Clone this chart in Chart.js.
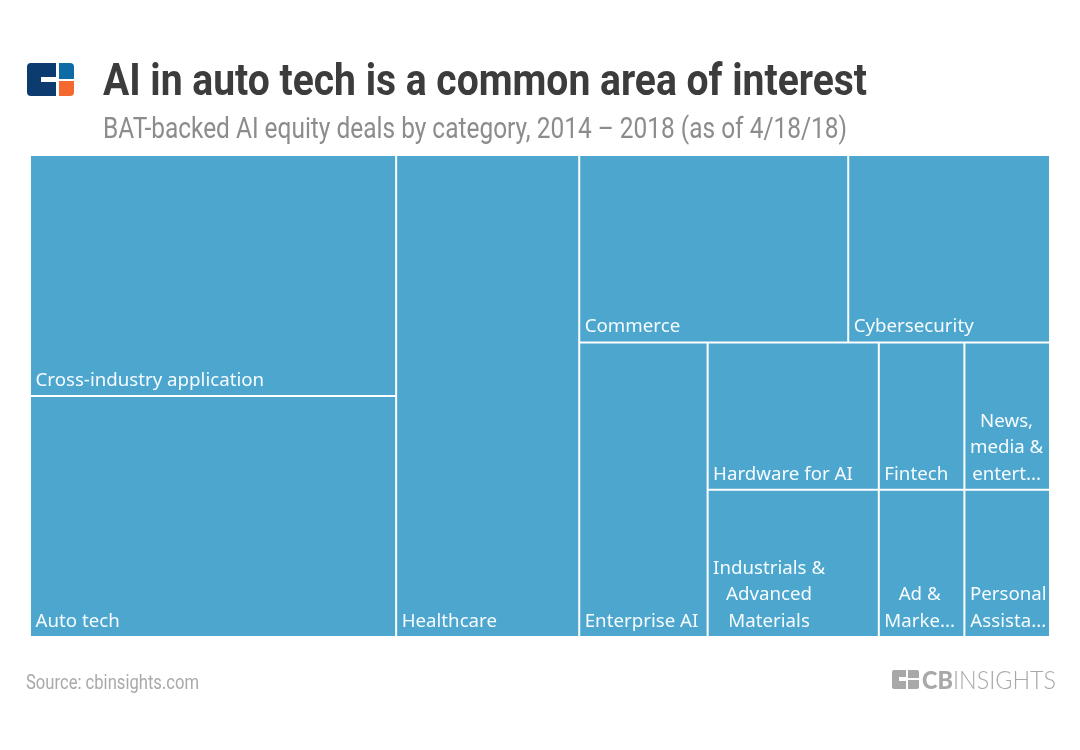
<!DOCTYPE html>
<html>
<head>
<meta charset="utf-8">
<title>AI in auto tech is a common area of interest</title>
<script src="https://cdn.jsdelivr.net/npm/chart.js@4/dist/chart.umd.min.js"></script>
<style>
html, body { margin: 0; padding: 0; background: #fff; }
#page { position: relative; width: 1080px; height: 750px; overflow: hidden; }
#page canvas { position: absolute; left: 0; top: 0; }
.txt { position: absolute; white-space: nowrap; transform-origin: left top; font-family: Roboto, sans-serif; }
#title { left: 103px; top: 55px; font-size: 44px; font-weight: 700; color: #3c3c3c; line-height: 50px; }
#subtitle { left: 103px; top: 110px; font-size: 29px; color: #8c8c8c; line-height: 36px; }
#source { left: 26px; top: 671px; font-size: 19.5px; color: #a9a9a9; line-height: 24px; }
#brand { left: 922px; top: 664px; font-family: Lato, sans-serif; font-size: 25px; color: #a8a8a8; line-height: 30px; }
#brand b { font-weight: 900; }
#brand span { font-weight: 300; }
svg { position: absolute; }
</style>
</head>
<body>
<div id="page">
  <canvas id="myChart" width="1080" height="750"></canvas>
  <svg style="left:26px;top:62px" width="49" height="35" viewBox="0 0 49 35">
    <path d="M5 1H30V15H15V20H30V34H5Q1 34 1 30V5Q1 1 5 1Z" fill="#0c3b70"/>
    <path d="M33 1H44Q48 1 48 5V17H33Z" fill="#0f6ba6"/>
    <path d="M33 19H48V30Q48 34 44 34H33Z" fill="#f4672f"/>
  </svg>
  <svg style="left:892px;top:670px" width="27" height="19" viewBox="0 0 27 19">
    <path d="M2 0H14V7H7V11H14V19H2Q0 19 0 17V2Q0 0 2 0Z" fill="#a8a8a8"/>
    <path d="M16 0H25Q27 0 27 2V8H16Z" fill="#a8a8a8"/>
    <path d="M16 10H27V17Q27 19 25 19H16Z" fill="#a8a8a8"/>
  </svg>
  <div class="txt" id="title" data-w="764">AI in auto tech is a common area of interest</div>
  <div class="txt" id="subtitle" data-w="744">BAT-backed AI equity deals by category, 2014 – 2018 (as of 4/18/18)</div>
  <div class="txt" id="source" data-w="173">Source: cbinsights.com</div>
  <div class="txt" id="brand" data-w="134"><b>CB</b><span>INSIGHTS</span></div>
</div>
<script>
const categories = ["Cross-industry application", "Auto tech", "Healthcare", "Commerce", "Cybersecurity", "Enterprise AI",
    "Hardware for AI", "Fintech", "News, media & entertainment", "Industrials & Advanced Materials", "Ad & Marketing", "Personal Assistants"];
const deals = [7, 7, 7, 4, 3, 3, 2, 1, 1, 2, 1, 1];

// how the cells nest, by index into categories
const nesting = ["x", ["y", 0, 1], 2, ["y", ["x", 3, 4], ["x", 5, ["y", ["x", 6, 7, 8], ["x", 9, 10, 11]]]]];

// squeeze the roboto text to the condensed width of the original
document.querySelectorAll(".txt").forEach(el => {
    const w = el.getBoundingClientRect().width;
    el.style.transform = "scaleX(" + (el.dataset.w / w) + ")";
});

function total(node, vals) {
    if (typeof node === "number") return vals[node];
    return node.slice(1).reduce((s, n) => s + total(n, vals), 0);
}

// fills out with {x0,x1,y0,y1} in 0..1 data units
function layout(node, vals, box, out) {
    if (typeof node === "number") { out[node] = box; return; }
    const dir = node[0];
    const sum = total(node, vals);
    let pos = dir === "x" ? box.x0 : box.y0;
    const span = dir === "x" ? box.x1 - box.x0 : box.y1 - box.y0;
    node.slice(1).forEach(n => {
        const size = span * total(n, vals) / sum;
        if (dir === "x") layout(n, vals, {x0: pos, x1: pos + size, y0: box.y0, y1: box.y1}, out);
        else layout(n, vals, {x0: box.x0, x1: box.x1, y0: pos, y1: pos + size}, out);
        pos += size;
    });
}

class TreemapController extends Chart.DatasetController {
    update(mode) {
        const meta = this._cachedMeta;
        this.updateElements(meta.data, 0, meta.data.length, mode);
    }
    updateElements(rects, start, count, mode) {
        const meta = this._cachedMeta;
        const boxes = [];
        layout(nesting, this.getDataset().data, {x0: 0, x1: 1, y0: 0, y1: 1}, boxes);
        for (let i = start; i < start + count; i++) {
            const b = boxes[i];
            const left = meta.xScale.getPixelForValue(b.x0);
            const right = meta.xScale.getPixelForValue(b.x1);
            this.updateElement(rects[i], i, {
                x: (left + right) / 2,
                y: meta.yScale.getPixelForValue(b.y0),
                base: meta.yScale.getPixelForValue(b.y1),
                width: right - left,
                height: meta.yScale.getPixelForValue(b.y1) - meta.yScale.getPixelForValue(b.y0),
                horizontal: false,
                borderSkipped: {},
                enableBorderRadius: false,
                inflateAmount: 0,
                options: this.resolveDataElementOptions(i, mode)
            }, mode);
        }
    }
}
TreemapController.id = "treemap";
TreemapController.defaults = {dataElementType: "bar"};
TreemapController.overrides = {scales: {x: {type: "linear"}, y: {type: "linear"}}};
Chart.register(TreemapController);

function shorten(ctx, word, room) {
    if (ctx.measureText(word).width <= room) return word;
    let s = word;
    while (s.length > 1 && ctx.measureText(s + "...").width > room) s = s.slice(0, -1);
    return s + "...";
}

function wrapLabel(ctx, text, room) {
    const lines = [];
    let cur = "";
    text.split(" ").forEach(word => {
        const next = cur ? cur + " " + word : word;
        if (ctx.measureText(next).width <= room) { cur = next; return; }
        if (cur) lines.push(cur);
        cur = word;
    });
    lines.push(cur);
    return lines.map(l => shorten(ctx, l, room));
}

const cellLabels = {
    id: "cellLabels",
    afterDatasetsDraw(chart) {
        const ctx = chart.ctx;
        const meta = chart.getDatasetMeta(0);
        ctx.save();
        ctx.font = "18.7px 'Noto Sans'";
        ctx.fillStyle = "#f6fcff";
        ctx.textBaseline = "alphabetic";
        meta.data.forEach((el, i) => {
            const left = el.x - el.width / 2;
            const lines = wrapLabel(ctx, chart.data.labels[i], el.width - 8.5);
            const widest = Math.max(...lines.map(l => ctx.measureText(l).width));
            lines.forEach((line, k) => {
                const w = ctx.measureText(line).width;
                const y = el.base - 10 - (lines.length - 1 - k) * 26.6;
                ctx.fillText(line, left + 5.5 + (widest - w) / 2, y);
            });
        });
        ctx.restore();
    }
};

new Chart("myChart", {
    type: "treemap",
    data: {
        labels: categories,
        datasets: [{
            data: deals,
            backgroundColor: "#4ca6ce",
            borderColor: "#ffffff",
            borderWidth: 1
        }]
    },
    options: {
        responsive: false,
        animation: false,
        layout: {padding: {left: 30, right: 30, top: 155, bottom: 113}},
        plugins: {legend: {display: false}, tooltip: {enabled: false}},
        scales: {
            x: {type: "linear", min: 0, max: 1, display: false},
            y: {type: "linear", min: 0, max: 1, reverse: true, display: false}
        }
    },
    plugins: [cellLabels]
});
</script>
</body>
</html>
